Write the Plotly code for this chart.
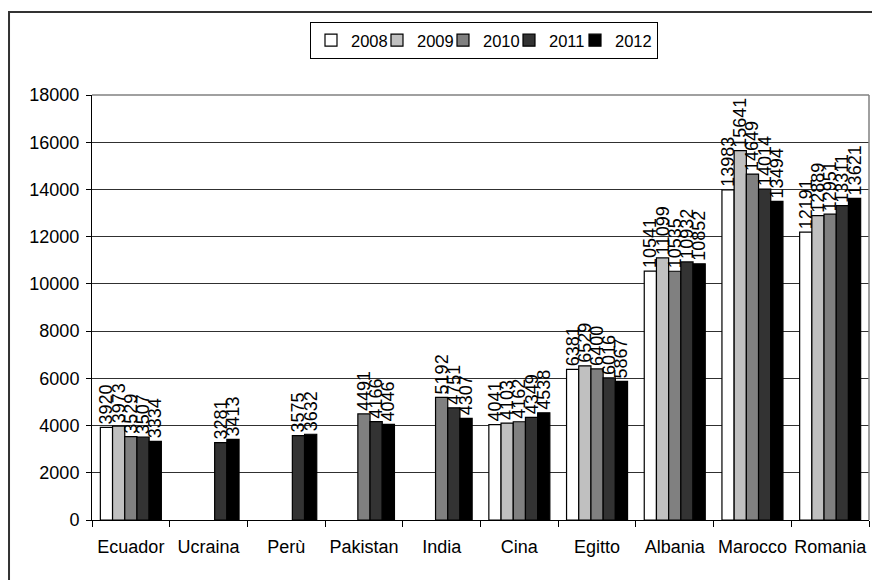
import plotly.graph_objects as go

categories = ["Ecuador", "Ucraina", "Perù", "Pakistan", "India", "Cina", "Egitto", "Albania", "Marocco", "Romania"]
years = ["2008", "2009", "2010", "2011", "2012"]
v2008 = [3920, None, None, None, None, 4041, 6381, 10541, 13983, 12191]
v2009 = [3973, None, None, None, None, 4103, 6529, 11099, 15641, 12889]
v2010 = [3529, None, None, 4491, 5192, 4162, 6400, 10535, 14649, 12951]
v2011 = [3507, 3281, 3575, 4166, 4751, 4349, 6016, 10932, 14014, 13311]
v2012 = [3334, 3413, 3632, 4046, 4307, 4538, 5867, 10852, 13494, 13621]
series = [v2008, v2009, v2010, v2011, v2012]
colors = ["#FFFFFF", "#C0C0C0", "#808080", "#333333", "#000000"]

FONT = "Liberation Sans, Arial, sans-serif"

fig = go.Figure()
for i, (name, vals, col) in enumerate(zip(years, series, colors)):
    fig.add_trace(go.Bar(
        name=name, x=categories, y=vals,
        marker=dict(color=col, line=dict(color="#000000", width=1.2)),
        text=[("" if v is None else str(v)) for v in vals],
        textposition="outside", textangle=-90, constraintext="none",
        cliponaxis=False,
        textfont=dict(family=FONT, size=18, color="#000000"),
        legendwidth=(37 if i == len(years) - 1 else None),
    ))

fig.update_layout(
    width=872, height=580,
    margin=dict(l=92, r=3, t=95, b=60, autoexpand=False),
    paper_bgcolor="white", plot_bgcolor="white",
    barmode="group", bargap=0.215, bargroupgap=0,
    font=dict(family=FONT, size=18, color="#000000"),
    showlegend=True,
    legend=dict(orientation="h", x=0.5045, xanchor="center", y=1.1718, yanchor="top",
                bgcolor="white", bordercolor="#000000", borderwidth=1,
                font=dict(family=FONT, size=16.5, color="#000000"),
                entrywidth=21, entrywidthmode="pixels", traceorder="normal"),
    xaxis=dict(type="category", showline=True, linecolor="#000000", linewidth=1,
               ticks="outside", tickson="boundaries", ticklen=6, tickcolor="#000000",
               ticklabelstandoff=10, showgrid=False, tickangle=0, automargin=False,
               tickfont=dict(family=FONT, size=18, color="#000000")),
    yaxis=dict(range=[0, 18000], dtick=2000, tickformat="d", showline=True,
               linecolor="#000000", linewidth=1,
               ticks="outside", ticklen=5, tickcolor="#000000", automargin=False,
               ticklabelstandoff=3,
               showgrid=True, gridcolor="#303030", gridwidth=1, zeroline=False,
               tickfont=dict(family=FONT, size=18, color="#000000")),
    shapes=[
        dict(type="line", xref="paper", yref="paper", x0=0, x1=1, y0=1, y1=1,
             line=dict(color="#808080", width=1.5)),
        dict(type="line", xref="paper", yref="paper", x0=1, x1=1, y0=0, y1=1,
             line=dict(color="#808080", width=1.5)),
        dict(type="rect", xref="paper", yref="paper", x0=-0.1068, x1=1.2, y0=-0.3, y1=1.1953,
             line=dict(color="#333333", width=2)),
    ],
)

fig.write_html("out.html", config={"displayModeBar": False},
               post_script="document.body.style.margin='0';document.body.style.overflow='hidden';")
